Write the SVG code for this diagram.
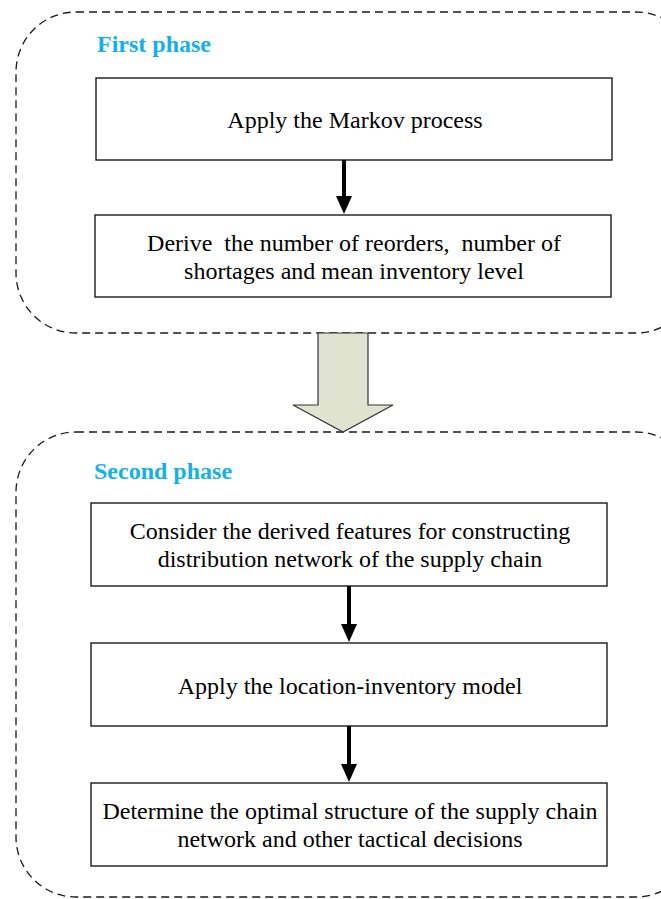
<svg xmlns="http://www.w3.org/2000/svg" width="661" height="899" viewBox="0 0 661 899">
  <style>
    .phase { fill: none; stroke: #1a1a1a; stroke-width: 1.3; stroke-dasharray: 8 5; }
    .box { fill: #ffffff; stroke: #1a1a1a; stroke-width: 1.4; }
    .lbl { font-family: "Liberation Serif", "Times New Roman", serif; font-size: 24px; fill: #000; text-anchor: middle; }
    .title { font-family: "Liberation Serif", "Times New Roman", serif; font-size: 24px; font-weight: bold; fill: #14b0e8; }
    .shaft { stroke: #000; stroke-width: 4; fill: none; }
    .tip { fill: #000; }
  </style>
  <rect width="661" height="899" fill="#ffffff"/>

  <!-- phase containers -->
  <g id="phase1">
    <rect class="phase" x="16" y="12" width="680" height="321" rx="60" ry="60"/>
    <text class="title" x="97" y="52">First phase</text>
  </g>
  <g id="phase2">
    <rect class="phase" x="16" y="432" width="680" height="465" rx="60" ry="60"/>
    <text class="title" x="94" y="479">Second phase</text>
  </g>

  <!-- process steps -->
  <g id="markov">
    <rect class="box" x="96" y="78" width="516" height="82"/>
    <text class="lbl" x="355" y="128">Apply the Markov process</text>
  </g>
  <g id="derive">
    <rect class="box" x="95" y="215" width="516" height="82"/>
    <text class="lbl" x="354" y="251" xml:space="preserve">Derive  the number of reorders,  number of</text>
    <text class="lbl" x="354" y="279">shortages and mean inventory level</text>
  </g>
  <g id="consider">
    <rect class="box" x="91" y="503" width="516" height="83"/>
    <text class="lbl" x="350" y="539">Consider the derived features for constructing</text>
    <text class="lbl" x="350" y="567">distribution network of the supply chain</text>
  </g>
  <g id="locinv">
    <rect class="box" x="91" y="643" width="516" height="83"/>
    <text class="lbl" x="350" y="694">Apply the location-inventory model</text>
  </g>
  <g id="determine">
    <rect class="box" x="91" y="783" width="516" height="83"/>
    <text class="lbl" x="350" y="819">Determine the optimal structure of the supply chain</text>
    <text class="lbl" x="350" y="847">network and other tactical decisions</text>
  </g>

  <!-- connectors -->
  <g id="connectors">
    <path class="shaft" d="M344,160 V196"/>
    <path class="tip" d="M336,196 L352,196 L344,214 Z"/>
    <path class="shaft" d="M349,586 V624"/>
    <path class="tip" d="M341,624 L357,624 L349,642 Z"/>
    <path class="shaft" d="M349,726 V764"/>
    <path class="tip" d="M341,764 L357,764 L349,782 Z"/>
    <!-- block arrow between phases -->
    <path d="M318,333 H368 V405 H393 L343,432 L293,405 H318 Z" fill="#dfe3cf" stroke="#333" stroke-width="1.2"/>
  </g>
</svg>
